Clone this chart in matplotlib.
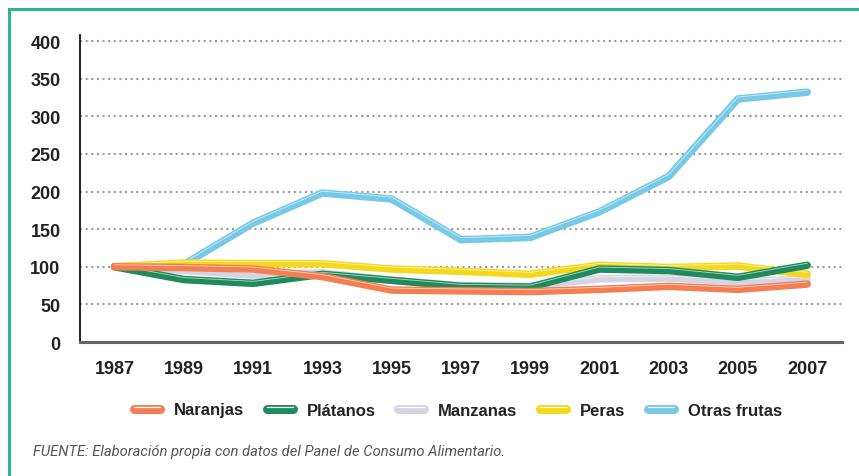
#!/usr/bin/env python3
"""Fruit consumption index 1987-2007 (base 1987 = 100)."""

import matplotlib
matplotlib.use("Agg")
import matplotlib.pyplot as plt
import matplotlib.patheffects as pe
from matplotlib.lines import Line2D
from matplotlib.legend_handler import HandlerTuple

YEARS = [1987, 1989, 1991, 1993, 1995, 1997, 1999, 2001, 2003, 2005, 2007]

NARANJAS = [100, 99, 97, 87, 69, 68, 67, 70, 74, 70, 77]
PLATANOS = [100, 83, 78, 90, 82, 74, 73, 97, 95, 86, 102]
MANZANAS = [100, 95, 89, 92, 82, 75, 74, 84, 85, 80, 84]
PERAS = [100, 105, 104, 104, 97, 94, 90, 102, 99, 101, 90]
OTRAS = [100, 103, 158, 198, 190, 136, 139, 173, 220, 323, 332]

SERIES = [
    ("Naranjas", NARANJAS, "#F27E52"),
    ("Plátanos", PLATANOS, "#1F8A5B"),
    ("Manzanas", MANZANAS, "#D5D4E4"),
    ("Peras", PERAS, "#F3D81C"),
    ("Otras frutas", OTRAS, "#77C9E5"),
]
DRAW_ORDER = ["Otras frutas", "Manzanas", "Peras", "Plátanos", "Naranjas"]

Y_TICKS = [0, 50, 100, 150, 200, 250, 300, 350, 400]
SOURCE = "FUENTE: Elaboración propia con datos del Panel de Consumo Alimentario."

plt.rcParams["font.family"] = ["Liberation Sans", "DejaVu Sans"]

fig = plt.figure(figsize=(8.59, 4.77), dpi=100)
ax = fig.add_axes([0.0931, 0.2809, 0.8869, 0.6436])

lookup = {name: (vals, col) for name, vals, col in SERIES}
for z, name in enumerate(DRAW_ORDER):
    vals, col = lookup[name]
    ax.plot(YEARS, vals, color=col, linewidth=5.4, solid_capstyle="round",
            solid_joinstyle="round", zorder=3 + z * 2)
    ax.plot(YEARS, vals, color="white", linewidth=0.6, alpha=0.65,
            solid_capstyle="round", zorder=4 + z * 2,
            path_effects=[pe.Stroke(offset=(0, 1.4))])

ax.set_xlim(1986, 2008)
ax.set_ylim(0, 408)
ax.set_xticks(YEARS)
ax.set_yticks(Y_TICKS)
ax.tick_params(axis="both", length=0, labelsize=13, colors="#222222")
ax.tick_params(axis="y", pad=14)
ax.tick_params(axis="x", pad=13)
for lab in ax.get_xticklabels() + ax.get_yticklabels():
    lab.set_fontweight("bold")

for y in Y_TICKS[1:]:
    ax.axhline(y, color="#9E9A96", linewidth=1.5, linestyle=(0, (1, 1.7)),
               zorder=1)

for side in ["top", "right"]:
    ax.spines[side].set_visible(False)
ax.spines["left"].set_color("#111111")
ax.spines["left"].set_linewidth(1.3)
ax.spines["bottom"].set_color("#666666")
ax.spines["bottom"].set_linewidth(2.2)

handles = []
for name, vals, col in SERIES:
    thick = Line2D([], [], color=col, linewidth=6.5, solid_capstyle="round")
    thin = Line2D([], [], color="white", linewidth=0.9, solid_capstyle="round",
                  path_effects=[pe.Stroke(offset=(0, 1.2))])
    handles.append((thick, thin))

fig.legend(handles, [s[0] for s in SERIES], loc="center",
           bbox_to_anchor=(458 / 859, 1 - 411 / 477), ncol=5, frameon=False,
           handler_map={tuple: HandlerTuple(ndivide=1, pad=0)},
           prop={"weight": "bold", "size": 12}, handlelength=1.55,
           handletextpad=0.85, columnspacing=1.35, labelcolor="#222222")

fig.text(33 / 859, 1 - 452 / 477, SOURCE, fontsize=10.6, style="italic",
         color="#555555", va="center", ha="left",
         family=["Roboto", "DejaVu Sans"])

# teal frame (top and left edges)
fig.add_artist(Line2D([9 / 859, 1.0], [1 - 10 / 477, 1 - 10 / 477],
                      color="#2DB68F", linewidth=2.2, transform=fig.transFigure))
fig.add_artist(Line2D([9 / 859, 9 / 859], [0.0, 1 - 10 / 477],
                      color="#2DB68F", linewidth=2.2, transform=fig.transFigure))

fig.savefig("out.png", dpi=100)
